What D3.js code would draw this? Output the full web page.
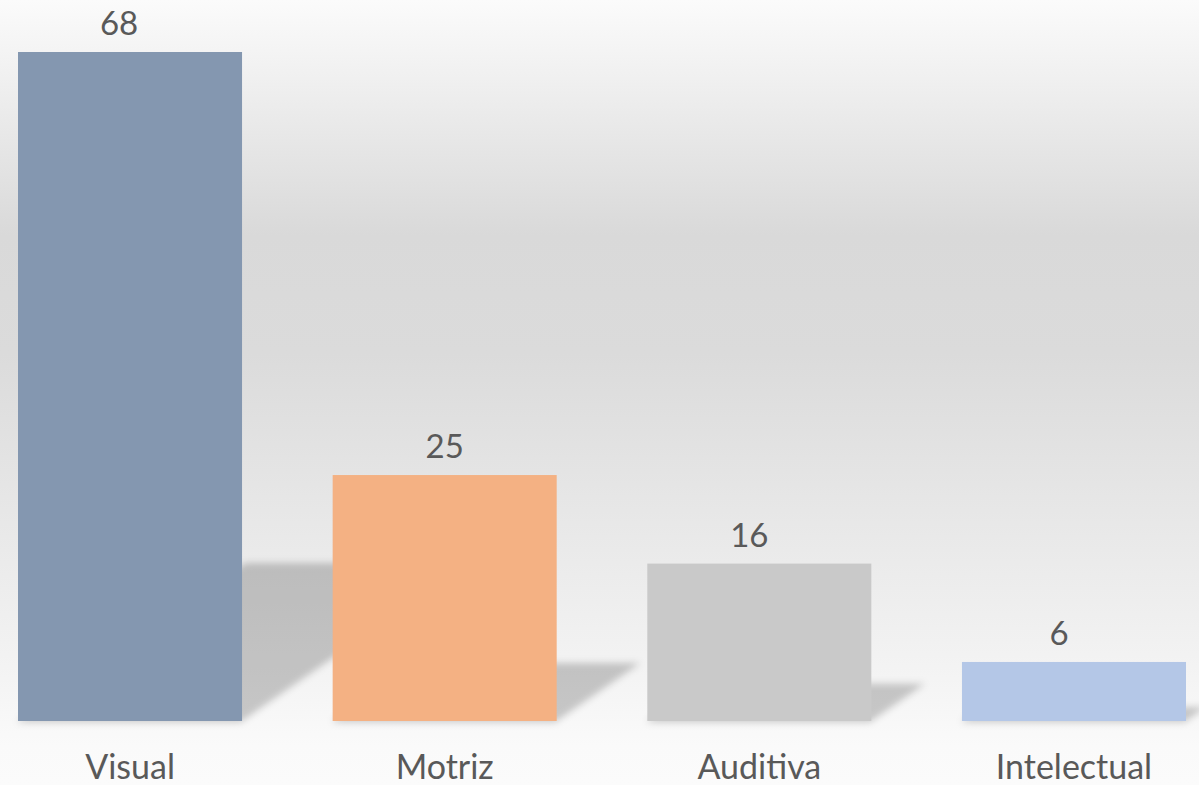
<!DOCTYPE html>
<html><head><meta charset="utf-8">
<script src="https://cdn.jsdelivr.net/npm/d3@7"></script>
<style>html,body{margin:0;padding:0;background:#fafafa;overflow:hidden}</style>
</head><body>
<svg id="chart" width="1199" height="785"></svg>
<script>
const categories = ["Visual", "Motriz", "Auditiva", "Intelectual"];
const values = [68, 25, 16, 6];
const colors = ["#8497b0", "#f4b183", "#c9c9c9", "#b4c7e7"];
// small horizontal nudges of the value labels, as placed in the original
const labelNudge = [-11, 0, -10, -15];

const W = 1199, H = 785;
const svg = d3.select("#chart");
const defs = svg.append("defs");
const grad = defs.append("linearGradient").attr("id","bg").attr("x1",0).attr("y1",0).attr("x2",0).attr("y2",1);
[[0,"#fbfbfb"],[0.1,"#f0f0f0"],[0.3,"#d9d9d9"],[0.45,"#dbdbdb"],[0.65,"#e7e7e7"],[0.85,"#f3f3f3"],[0.95,"#fafafa"],[1,"#fbfbfb"]]
  .forEach(([o,c])=>grad.append("stop").attr("offset",o).attr("stop-color",c));
const blur = defs.append("filter").attr("id","blur").attr("x","-20%").attr("y","-20%").attr("width","140%").attr("height","140%");
blur.append("feGaussianBlur").attr("stdDeviation",3.5);

svg.append("rect").attr("width",W).attr("height",H).attr("fill","url(#bg)");

const baseY = 721;
const x = d3.scaleBand().domain(categories).range([-27.3, 1231.3]).paddingInner(0.288).paddingOuter(0.144);
const y = d3.scaleLinear().domain([0, 68]).range([baseY, 52]);

// perspective shadows
const sh = svg.append("g").attr("filter","url(#blur)");
categories.forEach((c,i)=>{
  const x0 = x(c), x1 = x(c)+x.bandwidth();
  const h = baseY - y(values[i]);
  const dx = 0.34*h, dy = 0.236*h;
  sh.append("path")
    .attr("d", `M${x0},${baseY} L${x1},${baseY} L${x1+dx},${baseY-dy} L${x0+dx},${baseY-dy} Z`)
    .attr("fill","#000").attr("fill-opacity",0.2);
  sh.append("rect").attr("x",x0).attr("y",baseY-1).attr("width",x.bandwidth()).attr("height",3)
    .attr("fill","#000").attr("fill-opacity",0.08);
});

svg.append("g").selectAll("rect").data(values).join("rect")
  .attr("x",(d,i)=>x(categories[i]))
  .attr("y",d=>y(d))
  .attr("width",x.bandwidth())
  .attr("height",d=>baseY-y(d))
  .attr("fill",(d,i)=>colors[i]);

svg.append("g").selectAll("text").data(values).join("text")
  .attr("x",(d,i)=>x(categories[i])+x.bandwidth()/2+labelNudge[i])
  .attr("y",d=>y(d)-17)
  .attr("text-anchor","middle")
  .attr("font-family","Lato, 'Open Sans', sans-serif")
  .attr("font-size",33)
  .attr("fill","#595959")
  .text(d=>d);

const xAxis = d3.axisBottom(x).tickSize(0).tickPadding(0);
const ax = svg.append("g").attr("transform",`translate(0,${baseY})`).call(xAxis);
ax.select(".domain").remove();
ax.selectAll("text")
  .attr("y", 58).attr("dy", 0)
  .attr("font-family","Lato, 'Open Sans', sans-serif")
  .attr("font-size",34)
  .attr("fill","#595959");
</script>
</body></html>
